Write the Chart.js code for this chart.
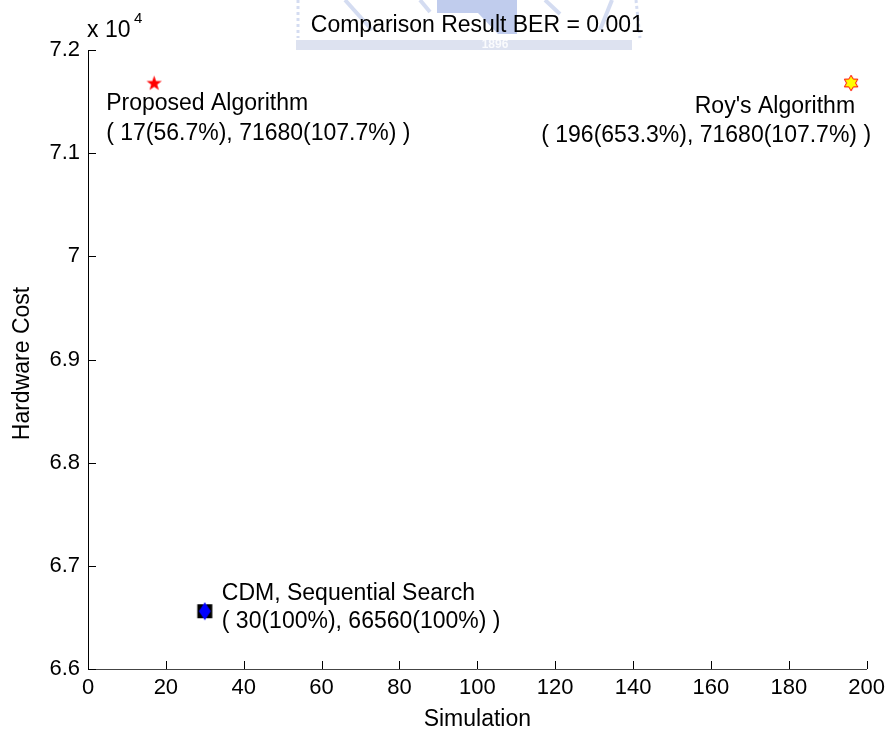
<!DOCTYPE html>
<html>
<head>
<meta charset="utf-8">
<script src="https://cdn.jsdelivr.net/npm/chart.js@4.4.1/dist/chart.umd.min.js"></script>
<style>
  body { margin: 0; background: #fff; }
  #wrap { width: 891px; height: 734px; }
</style>
</head>
<body>
<div id="wrap"><canvas id="cmp" width="891" height="734"></canvas></div>
<script>
// data
const methods = ['Proposed Algorithm', "Roy's Algorithm", 'CDM, Sequential Search'];
const simulation = [17, 196, 30];
const hardwareCost = [71680, 71680, 66560];
const simPercent = ['56.7%', '653.3%', '100%'];
const costPercent = ['107.7%', '107.7%', '100%'];
const xTicks = [0, 20, 40, 60, 80, 100, 120, 140, 160, 180, 200];
const yTicks = [66000, 67000, 68000, 69000, 70000, 71000, 72000];

const FONT = '"Liberation Sans", Arial, sans-serif';

// marker images (matlab style)
function starMarker() {
    const c = document.createElement('canvas');
    c.width = 17; c.height = 17;
    const g = c.getContext('2d');
    g.beginPath();
    for (let i = 0; i < 10; i++) {
        const r = i % 2 ? 3.2 : 8;
        const a = -Math.PI / 2 + i * Math.PI / 5;
        const px = 8.5 + r * Math.cos(a), py = 9 + r * Math.sin(a);
        i ? g.lineTo(px, py) : g.moveTo(px, py);
    }
    g.closePath();
    g.fillStyle = '#ff0000';
    g.fill();
    return c;
}

function hexagramMarker() {
    const c = document.createElement('canvas');
    c.width = 16; c.height = 18;
    const g = c.getContext('2d');
    const cx = 8, cy = 9, R = 7.8;
    g.beginPath();
    for (let i = 0; i < 12; i++) {
        const r = i % 2 ? R / Math.sqrt(3) : R;
        const a = -Math.PI / 2 + i * Math.PI / 6;
        const px = cx + r * Math.cos(a), py = cy + r * Math.sin(a);
        i ? g.lineTo(px, py) : g.moveTo(px, py);
    }
    g.closePath();
    g.fillStyle = '#ffff00';
    g.fill();
    g.strokeStyle = '#ff0000';
    g.lineWidth = 1;
    g.stroke();
    return c;
}

function cdmMarker() {
    const c = document.createElement('canvas');
    c.width = 18; c.height = 20;
    const g = c.getContext('2d');
    g.fillStyle = '#000';
    g.fillRect(1.5, 3, 15, 14);
    g.beginPath();
    g.moveTo(9, 1); g.lineTo(15, 10); g.lineTo(9, 19); g.lineTo(3, 10);
    g.closePath();
    g.fillStyle = '#0000ff';
    g.fill();
    return c;
}

const markers = [starMarker(), hexagramMarker(), cdmMarker()];

// where each label sits relative to its marker
const labelPos = [
    { dx: -48, dy: 27, align: 'left', dx2: -48, dy2: 57 },
    { dx: 4, dy: 30, align: 'right', dx2: 20, dy2: 59 },
    { dx: 17, dy: -11, align: 'left', dx2: 17, dy2: 17 }
];

// faint logo watermark behind the title
function drawWatermark(g) {
    g.save();
    g.fillStyle = 'rgba(140,162,222,0.55)';
    g.fillRect(437, 0, 80, 13);
    g.beginPath();
    g.moveTo(478, 13); g.lineTo(517, 13); g.lineTo(517, 34); g.lineTo(498, 34);
    g.closePath();
    g.fill();
    g.fillStyle = 'rgba(170,182,218,0.4)';
    g.fillRect(296, 40, 336, 10);
    g.strokeStyle = 'rgba(160,178,225,0.45)';
    g.lineWidth = 4;
    g.beginPath();
    g.moveTo(345, 0); g.lineTo(372, 30);
    g.moveTo(420, 0); g.lineTo(430, 12);
    g.moveTo(545, 0); g.lineTo(560, 14);
    g.moveTo(612, 0); g.lineTo(600, 30);
    g.stroke();
    g.setLineDash([3, 3]);
    g.lineWidth = 3;
    g.beginPath();
    g.moveTo(298, 0); g.lineTo(298, 38);
    g.moveTo(636, 0); g.lineTo(640, 38);
    g.stroke();
    g.setLineDash([]);
    g.fillStyle = 'rgba(255,255,255,0.85)';
    g.font = 'bold 12px ' + FONT;
    g.textAlign = 'center';
    g.textBaseline = 'middle';
    g.fillText('1896', 495, 45);
    g.restore();
}

const matlabLook = {
    id: 'matlabLook',
    beforeDraw(chart) {
        drawWatermark(chart.ctx);
    },
    afterDraw(chart) {
        const g = chart.ctx;
        const xs = chart.scales.x, ys = chart.scales.y;
        const area = chart.chartArea;
        g.save();
        // inward ticks
        g.strokeStyle = '#000';
        g.lineWidth = 1;
        g.beginPath();
        xTicks.forEach(v => {
            const px = Math.round(xs.getPixelForValue(v)) + 0.5;
            g.moveTo(px, area.bottom); g.lineTo(px, area.bottom - 8);
        });
        yTicks.forEach(v => {
            const py = Math.round(ys.getPixelForValue(v)) + 0.5;
            g.moveTo(area.left, py); g.lineTo(area.left + 8, py);
        });
        g.stroke();

        g.fillStyle = '#000';
        g.font = '23px ' + FONT;
        g.textBaseline = 'alphabetic';

        // title
        g.textAlign = 'center';
        g.fillText('Comparison Result BER = 0.001', (area.left + area.right) / 2, 32);
        // x label
        g.fillText('Simulation', (area.left + area.right) / 2, 726);
        // y label
        g.save();
        g.translate(29, (area.top + area.bottom) / 2 + 4);
        g.rotate(-Math.PI / 2);
        g.fillText('Hardware Cost', 0, 0);
        g.restore();
        // exponent
        g.textAlign = 'left';
        g.fillText('x 10', 87, 37);
        g.font = '15px ' + FONT;
        g.fillText('4', 134, 23);

        // point annotations
        g.font = '23px ' + FONT;
        methods.forEach((name, i) => {
            const px = xs.getPixelForValue(simulation[i]);
            const py = ys.getPixelForValue(hardwareCost[i]);
            const p = labelPos[i];
            g.textAlign = p.align;
            g.fillText(name, px + p.dx, py + p.dy);
            g.fillText('( ' + simulation[i] + '(' + simPercent[i] + '), ' +
                hardwareCost[i] + '(' + costPercent[i] + ') )', px + p.dx2, py + p.dy2);
        });
        g.restore();
    }
};

const ctx = document.getElementById('cmp').getContext('2d');
const chart = new Chart(ctx, {
    type: 'scatter',
    data: {
        datasets: methods.map((name, i) => ({
            label: name,
            data: [{ x: simulation[i], y: hardwareCost[i] }],
            pointStyle: markers[i],
            pointRadius: 8,
            pointHoverRadius: 8
        }))
    },
    options: {
        responsive: false,
        animation: false,
        events: [],
        layout: { padding: { left: 0, top: 50, right: 23, bottom: 0 } },
        plugins: {
            legend: { display: false },
            title: { display: false },
            tooltip: { enabled: false }
        },
        scales: {
            x: {
                type: 'linear',
                min: 0,
                max: 200,
                afterFit: s => { s.height = 65; },
                afterBuildTicks: s => { s.ticks = xTicks.map(v => ({ value: v })); },
                grid: { display: false, drawTicks: false },
                border: { display: true, color: '#444', width: 1 },
                ticks: {
                    color: '#000',
                    font: { family: FONT, size: 22 },
                    padding: 6,
                    maxRotation: 0,
                    autoSkip: false
                }
            },
            y: {
                type: 'linear',
                min: 66000,
                max: 72000,
                afterFit: s => { s.width = 88; },
                afterBuildTicks: s => { s.ticks = yTicks.map(v => ({ value: v })); },
                grid: { display: false, drawTicks: false },
                border: { display: true, color: '#000', width: 1 },
                ticks: {
                    color: '#000',
                    font: { family: FONT, size: 22 },
                    padding: 8,
                    autoSkip: false,
                    callback: v => String(Math.round(v / 100) / 100)
                }
            }
        }
    },
    plugins: [matlabLook]
});
</script>
</body>
</html>
